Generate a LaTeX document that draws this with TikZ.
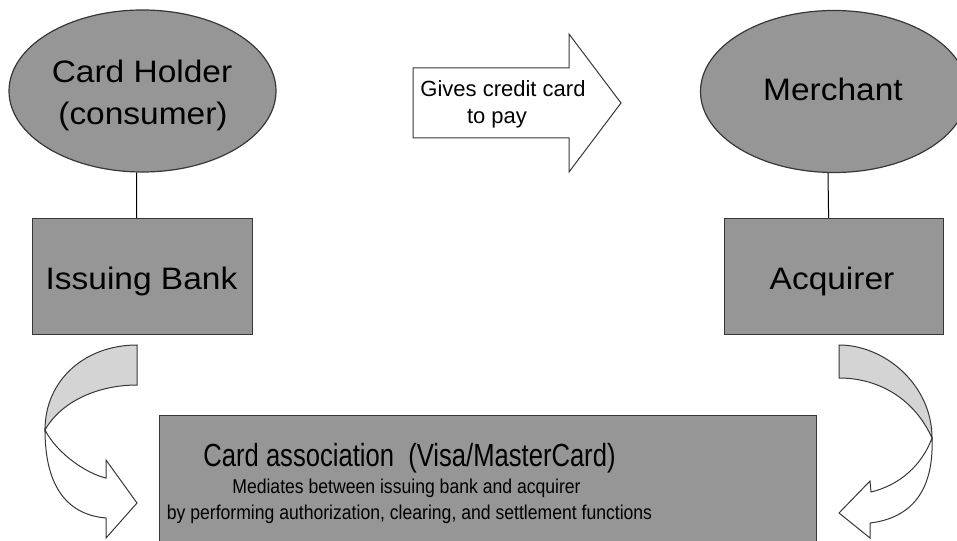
\documentclass[tikz,border=0pt]{standalone}
\usepackage{fontspec}
\setmainfont{Liberation Sans}
\newfontfamily\narrowA[FakeStretch=0.8]{Liberation Sans}
\newfontfamily\narrowB[FakeStretch=0.88]{Liberation Sans}
\newfontfamily\wideA[FakeStretch=1.08]{Liberation Sans}
\usetikzlibrary{shapes.geometric}
\definecolor{shapegray}{RGB}{150,150,150}
\definecolor{edgegray}{RGB}{55,55,55}
\definecolor{backgray}{RGB}{212,212,212}
\begin{document}
\begin{tikzpicture}[x=1pt,y=-1pt,
  ell/.style={ellipse, draw=edgegray, fill=shapegray, line width=1.2pt,
    minimum width=267pt, minimum height=162pt, inner sep=0pt},
  boxshape/.style={rectangle, draw=edgegray, fill=shapegray, line width=1.2pt,
    inner sep=0pt, anchor=north west},
  biglbl/.style={anchor=base, inner sep=0pt, text=black,
    font=\wideA\fontsize{31}{37}\selectfont},
  titlelbl/.style={anchor=base, inner sep=0pt, text=black,
    font=\narrowA\fontsize{32}{38}\selectfont},
  smalllbl/.style={anchor=base, inner sep=0pt, text=black,
    font=\narrowB\fontsize{20}{24}\selectfont},
  arrowlbl/.style={anchor=base, inner sep=0pt, text=black,
    font=\fontsize{22}{26}\selectfont},
  conn/.style={draw=black, line width=1pt},
  outline/.style={draw=edgegray, line width=1pt, line join=miter},
]
\useasboundingbox (0,0) rectangle (957,540);
\begin{scope}
\clip (0,0) rectangle (957,540);

% top ellipses
\node[ell] (ch) at (142.5,91) {};
\node[ell] (me) at (834,91.5) {};

% boxes
\node[boxshape, minimum width=220pt, minimum height=116pt] (ib) at (32,218) {};
\node[boxshape, minimum width=219pt, minimum height=116pt] (ac) at (724,218) {};
\node[boxshape, minimum width=657pt, minimum height=150pt] (ca) at (159,415) {};

% connectors
\draw[conn] ([xshift=-6pt]ch.south) -- ([xshift=-6pt]ib.north);
\draw[conn] ([xshift=-6pt]me.south) -- ([xshift=-5.5pt]ac.north);

% labels
\node[biglbl] (chA) at (142,83) {Card Holder};
\node[biglbl] (chB) at (143,125) {(consumer)};
\node[biglbl] (meA) at (833,101) {Merchant};
\node[biglbl] (ibA) at (141.5,289) {Issuing Bank};
\node[biglbl] (acA) at (832,289) {Acquirer};

\node[titlelbl] (caA) at (409.5,466) {Card association\ \ (Visa/MasterCard)};
\node[smalllbl] (caB) at (406.5,493) {Mediates between issuing bank and acquirer};
\node[smalllbl] (caC) at (409.5,519) {by performing authorization, clearing, and settlement functions};

% block arrow
\draw[outline, fill=white] (413,68) -- (569,68) -- (569,34) -- (621,103)
  -- (569,172) -- (569,138) -- (413,138) -- cycle;
\node[arrowlbl] (gA) at (503,97) {Gives credit card};
\node[arrowlbl] (gB) at (497,124) {to pay};

% left curved arrow
\draw[outline, fill=backgray] (137,345) .. controls (85,345) and (45,380) .. (45,430)
  .. controls (62,400) and (100,385) .. (137,385) -- cycle;
\draw[outline, fill=white] (45,430) .. controls (45,490) and (70,515) .. (106,518)
  -- (106,538) -- (137,503) -- (106,460) -- (106,478)
  .. controls (88,474) and (58,455) .. (45,430) -- cycle;

% right curved arrow
\draw[outline, fill=backgray] (839,345) .. controls (885,345) and (932,385) .. (932,438)
  .. controls (915,400) and (880,378) .. (839,378) -- cycle;
\draw[outline, fill=white] (932,438) .. controls (934,490) and (912,518) .. (870,523)
  -- (870,538) -- (839,513) -- (870,481) -- (871,492)
  .. controls (900,485) and (922,465) .. (932,438) -- cycle;
\end{scope}
\end{tikzpicture}
\end{document}
